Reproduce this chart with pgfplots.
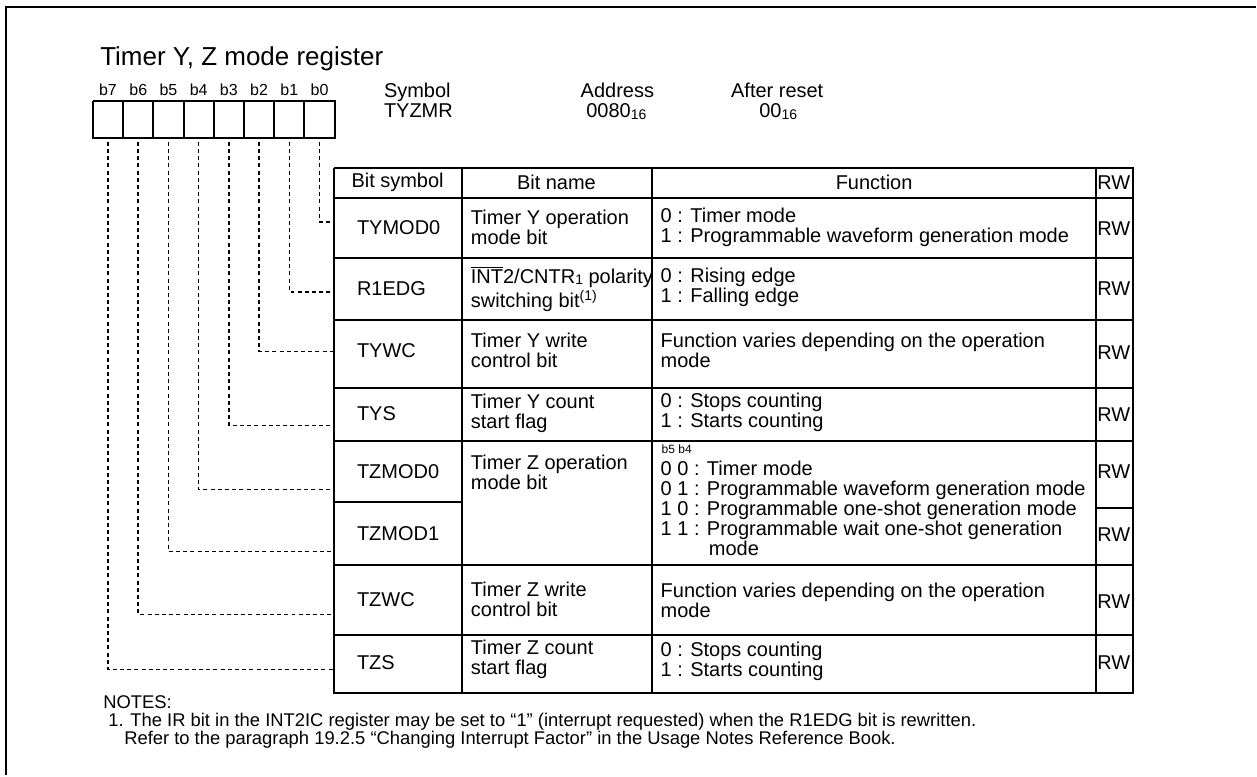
\documentclass[border=0pt]{standalone}
\usepackage{pgfplots}
\pgfplotsset{compat=1.18}
\usepackage{fontspec}
\setmainfont{Liberation Sans}
\newcommand\fs{\fontsize{10}{10}\selectfont}
\newcommand\sub[1]{{\fontsize{7}{7}\selectfont\raisebox{-0.6pt}{#1}}}
\begin{document}
\begin{tikzpicture}
\begin{axis}[scale only axis, width=628.5pt, height=388pt,
  xmin=0, xmax=1257, ymin=0, ymax=776, y dir=reverse,
  hide axis, clip=false]
\path (0,0) rectangle (1257,776);
% outer frame
\addplot[black, line width=1.3pt] coordinates {(6,776) (6,7) (1257,7)};
% register boxes
\addplot[black, line width=1pt] coordinates {(93,101) (335,101) (335,138) (93,138) (93,101)};
\addplot[black, line width=1pt] coordinates {(123.25,101) (123.25,138)};
\addplot[black, line width=1pt] coordinates {(153.5,101) (153.5,138)};
\addplot[black, line width=1pt] coordinates {(183.75,101) (183.75,138)};
\addplot[black, line width=1pt] coordinates {(214,101) (214,138)};
\addplot[black, line width=1pt] coordinates {(244.25,101) (244.25,138)};
\addplot[black, line width=1pt] coordinates {(274.5,101) (274.5,138)};
\addplot[black, line width=1pt] coordinates {(304.75,101) (304.75,138)};
% dashed connectors
\pgfplotsset{conn/.style={black, line width=0.8pt, dash pattern=on 2pt off 1.6pt}}
\addplot[conn] coordinates {(319.9,142) (319.9,222) (334,222)};
\addplot[conn] coordinates {(289.6,142) (289.6,292) (334,292)};
\addplot[conn] coordinates {(259.4,142) (259.4,352) (334,352)};
\addplot[conn] coordinates {(229.1,142) (229.1,426) (334,426)};
\addplot[conn] coordinates {(198.9,142) (198.9,490) (334,490)};
\addplot[conn] coordinates {(168.6,142) (168.6,552) (334,552)};
\addplot[conn] coordinates {(138.4,142) (138.4,615) (334,615)};
\addplot[conn] coordinates {(108.1,142) (108.1,670) (334,670)};
% table
\pgfplotsset{tl/.style={black, line width=1pt}}
\addplot[tl] coordinates {(334,168) (1134,168) (1134,694) (334,694) (334,168)};
\addplot[tl] coordinates {(462,168) (462,694)};
\addplot[tl] coordinates {(653,168) (653,694)};
\addplot[tl] coordinates {(1097,168) (1097,694)};
\addplot[tl] coordinates {(334,198) (1134,198)};
\addplot[tl] coordinates {(334,258) (1134,258)};
\addplot[tl] coordinates {(334,320) (1134,320)};
\addplot[tl] coordinates {(334,388) (1134,388)};
\addplot[tl] coordinates {(334,441) (1134,441)};
\addplot[tl] coordinates {(334,566) (1134,566)};
\addplot[tl] coordinates {(334,636) (1134,636)};
\addplot[tl] coordinates {(334,503) (462,503)};
\addplot[tl] coordinates {(1097,509) (1134,509)};
% title and header
\node[anchor=base west, font=\fontsize{13}{13}\selectfont, inner sep=0pt] at (100,66) {Timer Y, Z mode register};
\tikzset{bl/.style={anchor=base, font=\fontsize{8}{8}\selectfont, inner sep=0pt}}
\node[bl] at (108.1,96) {b7};
\node[bl] at (138.4,96) {b6};
\node[bl] at (168.6,96) {b5};
\node[bl] at (198.9,96) {b4};
\node[bl] at (229.1,96) {b3};
\node[bl] at (259.4,96) {b2};
\node[bl] at (289.6,96) {b1};
\node[bl] at (319.9,96) {b0};
\node[anchor=base west, font=\fs, inner sep=0pt] at (384,98) {Symbol};
\node[anchor=base west, font=\fs, inner sep=0pt] at (384,118) {TYZMR};
\node[anchor=base, font=\fs, inner sep=0pt] at (618,98) {Address};
\node[anchor=base, font=\fs, inner sep=0pt] at (617,118) {0080\sub{16}};
\node[anchor=base, font=\fs, inner sep=0pt] at (778,98) {After reset};
\node[anchor=base, font=\fs, inner sep=0pt] at (779,118) {00\sub{16}};
% table header
\node[font=\fs, inner sep=0pt] at (398,183) {Bit symbol};
\node[font=\fs, inner sep=0pt] at (557,183) {Bit name};
\node[font=\fs, inner sep=0pt] at (875,183) {Function};
\node[font=\fs, inner sep=0pt] at (1115,183) {RW};
% rows
\tikzset{sym/.style={anchor=west, font=\fs, inner sep=0pt},
         nm/.style={anchor=west, font=\fs, inner sep=0pt, align=left},
         rw/.style={font=\fs, inner sep=0pt}}
% TYMOD0
\node[sym] at (357,228) {TYMOD0};
\node[nm] at (471,228) {Timer Y operation\\mode bit};
\node[nm] at (661,228) {0 : Timer mode\\1 : Programmable waveform generation mode};
\node[rw] at (1115,229) {RW};
% R1EDG
\node[sym] at (357,289) {R1EDG};
\node[nm] at (471,289) {$\overline{\mbox{INT}}$2/CNTR\sub{1} polarity\\switching bit\textsuperscript{(1)}};
\node[nm] at (661,288) {0 : Rising edge\\1 : Falling edge};
\node[rw] at (1115,289) {RW};
% TYWC
\node[sym] at (357,351) {TYWC};
\node[nm] at (471,351) {Timer Y write\\control bit};
\node[nm] at (661,351) {Function varies depending on the operation\\mode};
\node[rw] at (1115,353) {RW};
% TYS
\node[sym] at (357,414) {TYS};
\node[nm] at (471,414) {Timer Y count\\start flag};
\node[nm] at (661,413) {0 : Stops counting\\1 : Starts counting};
\node[rw] at (1115,415) {RW};
% TZMOD
\node[sym] at (357,472) {TZMOD0};
\node[sym] at (357,534) {TZMOD1};
\node[nm] at (471,473) {Timer Z operation\\mode bit};
\node[anchor=west, font=\fontsize{6}{6}\selectfont, inner sep=0pt] at (662,450) {b5 b4};
\node[nm] at (661,509) {0 0 : Timer mode\\0 1 : Programmable waveform generation mode\\1 0 : Programmable one-shot generation mode\\1 1 : Programmable wait one-shot generation\\\phantom{1 1 : }\hspace{1pt}mode};
\node[rw] at (1115,472) {RW};
\node[rw] at (1115,535) {RW};
% TZWC
\node[sym] at (357,600) {TZWC};
\node[nm] at (471,600) {Timer Z write\\control bit};
\node[nm] at (661,601) {Function varies depending on the operation\\mode};
\node[rw] at (1115,602) {RW};
% TZS
\node[sym] at (357,663) {TZS};
\node[nm] at (471,660) {Timer Z count\\start flag};
\node[nm] at (661,662) {0 : Stops counting\\1 : Starts counting};
\node[rw] at (1115,663) {RW};
% notes
\node[anchor=west, font=\fontsize{9.2}{9.2}\selectfont, inner sep=0pt] at (103,703) {NOTES:};
\node[anchor=west, font=\fontsize{9.2}{9.2}\selectfont, inner sep=0pt] at (108,722) {1. The IR bit in the INT2IC register may be set to “1” (interrupt requested) when the R1EDG bit is rewritten.};
\node[anchor=west, font=\fontsize{9.2}{9.2}\selectfont, inner sep=0pt] at (124,741) {Refer to the paragraph 19.2.5 “Changing Interrupt Factor” in the Usage Notes Reference Book.};
\end{axis}
\end{tikzpicture}
\end{document}
